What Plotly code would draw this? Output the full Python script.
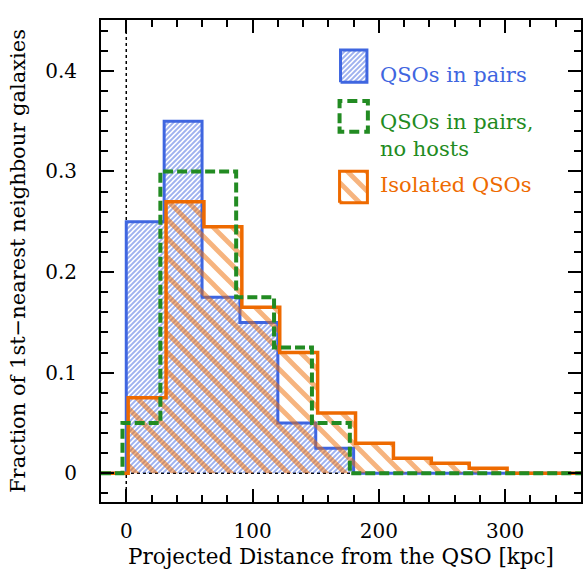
import plotly.graph_objects as go

# ---- data ----
BLUE_EDGES = [0, 30, 60, 90, 120, 150, 180]
BLUE_VALUES = [0.25, 0.35, 0.175, 0.15, 0.05, 0.025]

GREEN_EDGES = [-3, 27, 57, 87, 117, 147, 177]
GREEN_VALUES = [0.05, 0.30, 0.30, 0.175, 0.125, 0.05]

ORANGE_EDGES = [1.5, 31.5, 61.5, 91.5, 121.5, 151.5, 181.5, 211.5, 241.5, 271.5, 301.5]
ORANGE_VALUES = [0.075, 0.27, 0.245, 0.165, 0.12, 0.06, 0.03, 0.015, 0.01, 0.005]

LABELS = ["QSOs in pairs", "QSOs in pairs,<br>no hosts", "Isolated QSOs"]
X_TICKS = [0, 100, 200, 300]
Y_TICKS = [0, 0.1, 0.2, 0.3, 0.4]

X_RANGE = [-20, 360]
Y_RANGE = [-0.0285, 0.4505]

BLUE = "#3F66E0"
GREEN = "#228B22"
ORANGE = "#EE6A00"
FONT = "DejaVu Serif"


def step_outline(edges, values):
    xs = [X_RANGE[0], edges[0]]
    ys = [0, 0]
    for i, v in enumerate(values):
        xs += [edges[i], edges[i + 1]]
        ys += [v, v]
    xs += [edges[-1], X_RANGE[1]]
    ys += [0, 0]
    return xs, ys


BLUE_PATTERN = dict(shape="/", size=3.5355, solidity=0.55, fgcolor=BLUE)
ORANGE_PATTERN = dict(shape="\\", size=13.435, solidity=0.36, fgcolor=ORANGE)

fig = go.Figure()

bx, by = step_outline(BLUE_EDGES, BLUE_VALUES)
fig.add_trace(go.Scatter(
    x=bx, y=by, mode="lines", fill="toself", fillcolor="rgba(0,0,0,0)",
    fillpattern=BLUE_PATTERN,
    line=dict(color=BLUE, width=3), hoverinfo="skip", showlegend=False))

ox, oy = step_outline(ORANGE_EDGES, ORANGE_VALUES)
fig.add_trace(go.Scatter(
    x=ox, y=oy, mode="lines", fill="toself", fillcolor="rgba(0,0,0,0)",
    fillpattern=ORANGE_PATTERN,
    line=dict(color=ORANGE, width=3.5), hoverinfo="skip", showlegend=False))

gx, gy = step_outline(GREEN_EDGES, GREEN_VALUES)
fig.add_trace(go.Scatter(
    x=gx, y=gy, mode="lines",
    line=dict(color=GREEN, width=4, dash="10px,4px"), hoverinfo="skip", showlegend=False))

# ---- legend glyphs (axes-fraction coordinates on an overlay axis) ----
def box(x0, x1, y0, y1):
    return [x0, x1, x1, x0, x0], [y0, y0, y1, y1, y0]

lx, ly = box(0.499, 0.554, 0.871, 0.938)
fig.add_trace(go.Scatter(
    x=lx, y=ly, xaxis="x2", yaxis="y2", mode="lines", fill="toself",
    fillcolor="rgba(0,0,0,0)", fillpattern=BLUE_PATTERN,
    line=dict(color=BLUE, width=3), hoverinfo="skip", showlegend=False))

gx0, gx1, gy0, gy1 = 0.497, 0.556, 0.768, 0.832
fig.add_trace(go.Scatter(
    x=[gx0, gx0, gx1, gx1, gx0, gx0], y=[gy0 + 0.011, gy0, gy0, gy1, gy1, gy0 + 0.011],
    xaxis="x2", yaxis="y2", mode="lines",
    line=dict(color=GREEN, width=4, dash="10px,5px"), hoverinfo="skip", showlegend=False))

lx, ly = box(0.497, 0.555, 0.621, 0.686)
fig.add_trace(go.Scatter(
    x=lx, y=ly, xaxis="x2", yaxis="y2", mode="lines", fill="toself",
    fillcolor="rgba(0,0,0,0)", fillpattern=ORANGE_PATTERN,
    line=dict(color=ORANGE, width=3), hoverinfo="skip", showlegend=False))

ann_specs = [(LABELS[0], 0.886, BLUE), (LABELS[1], 0.760, GREEN),
             (LABELS[2], 0.657, ORANGE)]
annotations = []
for text, yy, col in ann_specs:
    annotations.append(dict(
        text=text, x=0.578, y=yy, xref="x domain", yref="y domain",
        xanchor="left", yanchor="middle", align="left", showarrow=False,
        font=dict(family=FONT, size=21, color=col)))

shapes = [
    dict(type="line", xref="x", yref="y domain", x0=0, x1=0, y0=0, y1=1,
         line=dict(color="black", width=1.5, dash="dot"), layer="below"),
    dict(type="line", xref="x domain", yref="y", x0=0, x1=1, y0=0, y1=0,
         line=dict(color="black", width=1.5, dash="dot"), layer="below"),
]

axis_common = dict(
    showgrid=False, zeroline=False, showline=True, linecolor="black", linewidth=2,
    mirror="ticks", ticks="inside", ticklen=13, tickwidth=1.5, tickcolor="black",
    tickfont=dict(family=FONT, size=20, color="black"),
)

fig.update_layout(
    width=584, height=570,
    margin=dict(l=101, r=1, t=20, b=68),
    paper_bgcolor="white", plot_bgcolor="white",
    showlegend=False,
    xaxis=dict(
        range=X_RANGE, tickvals=X_TICKS, ticktext=[str(v) for v in X_TICKS],
        minor=dict(dtick=20, ticklen=7, tickwidth=1.5, tickcolor="black", ticks="inside"),
        ticklabelstandoff=10,
        title=dict(text="Projected Distance from the QSO [kpc]", standoff=7,
                   font=dict(family=FONT, size=21.5, color="black")),
        **axis_common),
    yaxis=dict(
        range=Y_RANGE, tickvals=Y_TICKS, ticktext=["0", "0.1", "0.2", "0.3", "0.4"],
        minor=dict(dtick=0.02, ticklen=7, tickwidth=1.5, tickcolor="black", ticks="inside"),
        ticklabelstandoff=18,
        title=dict(text="Fraction of 1st\u2212nearest neighbour galaxies", standoff=14,
                   font=dict(family=FONT, size=21, color="black")),
        **axis_common),
    xaxis2=dict(overlaying="x", range=[0, 1], visible=False, fixedrange=True),
    yaxis2=dict(overlaying="y", range=[0, 1], visible=False, fixedrange=True),
    annotations=annotations,
    shapes=shapes,
)

fig.write_html("out.html")
